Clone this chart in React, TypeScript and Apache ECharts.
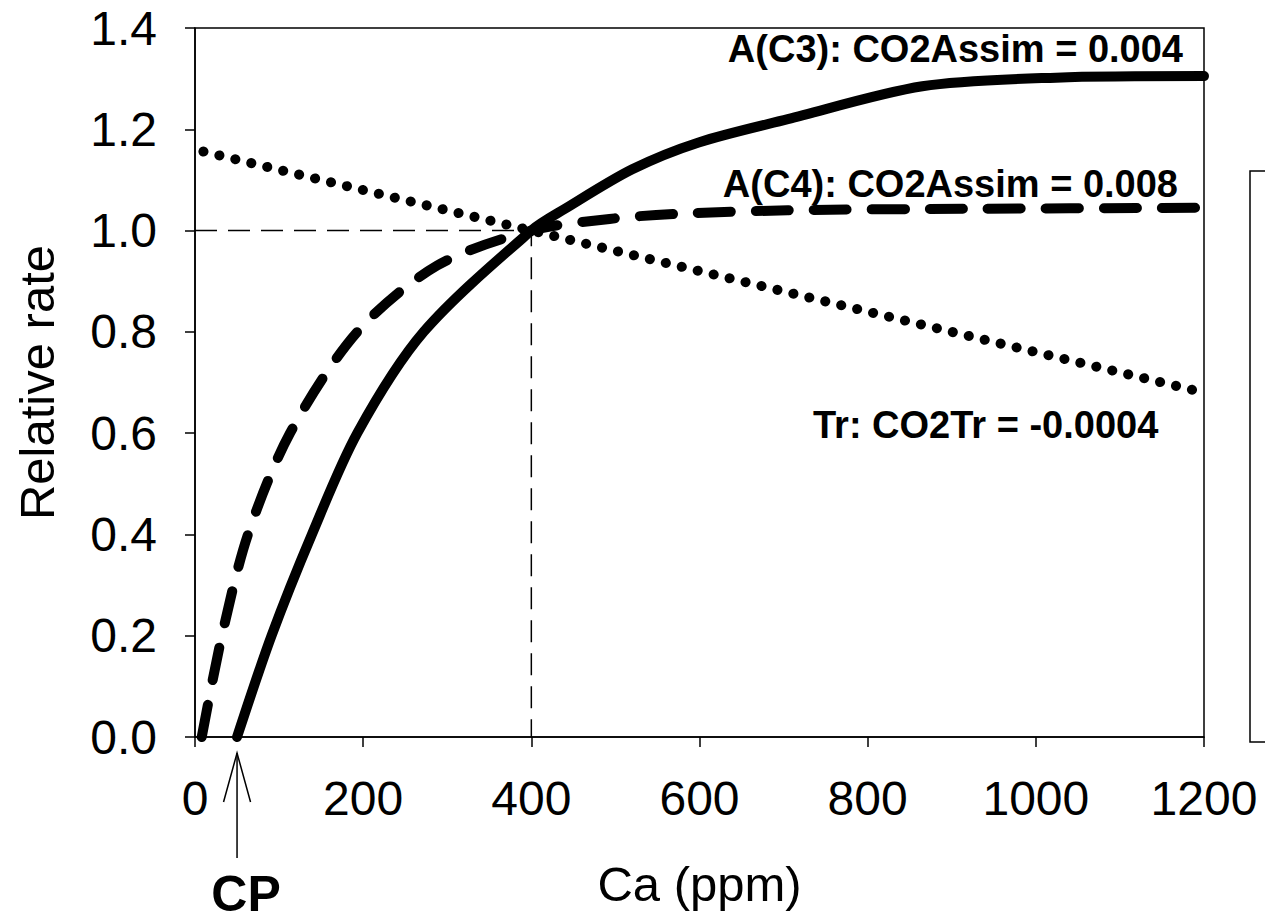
import React, { useEffect, useRef } from "react";
import * as echarts from "echarts";

// C3 assimilation curve (Ca ppm, relative rate)
const c3Ca = [50, 91, 139, 193, 272, 400, 440, 520, 599, 705, 865, 1024, 1200];
const c3Rate = [0, 0.2, 0.4, 0.6, 0.8, 1.0, 1.043, 1.121, 1.174, 1.22, 1.285, 1.302, 1.305];

// C4 assimilation curve
const c4Ca = [8, 32, 63, 113, 193, 288, 400, 493, 573, 705, 918, 1200];
const c4Rate = [0, 0.2, 0.4, 0.6, 0.8, 0.931, 1.0, 1.023, 1.033, 1.04, 1.043, 1.045];

// Transpiration line
const trCa = [10, 400, 1200];
const trRate = [1.156, 1.0, 0.68];

// Reference (400 ppm, 1.0) guide
const refCa = [0, 400, 400];
const refRate = [1.0, 1.0, 0.0];

// CP (compensation point)
const cpCa = 50;

const labels = {
  c3: "A(C3): CO2Assim = 0.004",
  c4: "A(C4): CO2Assim = 0.008",
  tr: "Tr: CO2Tr = -0.0004",
  cp: "CP",
  x: "Ca (ppm)",
  y: "Relative rate",
};

const zip = (xs: number[], ys: number[]) => xs.map((x, i) => [x, ys[i]]);

const FONT = "'Liberation Sans', Arial, Helvetica, sans-serif";

export default function App() {
  const ref = useRef<HTMLDivElement>(null);
  useEffect(() => {
    if (!ref.current) return;
    const chart = echarts.init(ref.current, null, { renderer: "svg" });
    chart.setOption({
      animation: false,
      backgroundColor: "#fff",
      grid: {
        left: 195,
        right: 61,
        top: 28,
        bottom: 184,
        containLabel: false,
        outerBoundsMode: "none",
        show: true,
        borderColor: "#000",
        borderWidth: 1.5,
        backgroundColor: "transparent",
      },
      xAxis: {
        type: "value",
        min: 0,
        max: 1200,
        interval: 200,
        name: labels.x,
        nameLocation: "middle",
        nameGap: 122,
        nameTextStyle: { fontFamily: FONT, fontSize: 49, color: "#000" },
        axisLine: { show: true, onZero: false, lineStyle: { color: "#000", width: 1.5 } },
        axisTick: { show: true, length: 10, lineStyle: { color: "#000", width: 1.5 } },
        axisLabel: {
          fontFamily: FONT,
          fontSize: 48,
          color: "#000",
          margin: 37,
          formatter: (v: number) => String(v),
        },
        splitLine: { show: false },
      },
      yAxis: {
        type: "value",
        min: 0,
        max: 1.4,
        interval: 0.2,
        name: labels.y,
        nameLocation: "middle",
        nameGap: 134,
        nameTextStyle: { fontFamily: FONT, fontSize: 49, color: "#000" },
        axisLine: { show: true, onZero: false, lineStyle: { color: "#000", width: 1.5 } },
        axisTick: { show: true, length: 10, lineStyle: { color: "#000", width: 1.5 } },
        axisLabel: {
          fontFamily: FONT,
          fontSize: 48,
          color: "#000",
          margin: 38,
          formatter: (v: number) => v.toFixed(1),
        },
        splitLine: { show: false },
      },
      series: [
        {
          type: "line",
          data: zip(refCa, refRate),
          symbol: "none",
          lineStyle: { color: "#000", width: 1.5, type: [22, 11] },
          z: 1,
        },
        {
          type: "line",
          data: zip(trCa, trRate),
          symbol: "none",
          lineStyle: { color: "#000", width: 10, type: [0.1, 16.3], cap: "round" },
          z: 2,
        },
        {
          type: "line",
          data: zip(c4Ca, c4Rate),
          symbol: "none",
          smooth: 0.3,
          lineStyle: { color: "#000", width: 10, type: [33, 25], cap: "round" },
          z: 3,
        },
        {
          type: "line",
          data: zip(c3Ca, c3Rate),
          symbol: "none",
          smooth: 0.3,
          lineStyle: { color: "#000", width: 10, cap: "round" },
          z: 4,
        },
      ],
    });

    const [cpX, axisY] = chart.convertToPixel({ gridIndex: 0 }, [cpCa, 0]) as number[];
    const tipY = axisY + 16;
    chart.setOption({
      graphic: [
        {
          type: "text",
          x: 1183,
          y: 49,
          style: { text: labels.c3, font: `bold 38px ${FONT}`, fill: "#000", align: "right", verticalAlign: "middle" },
        },
        {
          type: "text",
          x: 1178,
          y: 184,
          style: { text: labels.c4, font: `bold 38px ${FONT}`, fill: "#000", align: "right", verticalAlign: "middle" },
        },
        {
          type: "text",
          x: 813,
          y: 425,
          style: { text: labels.tr, font: `bold 38px ${FONT}`, fill: "#000", align: "left", verticalAlign: "middle" },
        },
        {
          type: "line",
          shape: { x1: cpX, y1: tipY, x2: cpX, y2: tipY + 105 },
          style: { stroke: "#000", lineWidth: 1.5 },
        },
        {
          type: "polyline",
          shape: { points: [[cpX - 13.5, tipY + 49], [cpX, tipY], [cpX + 13.5, tipY + 49]] },
          style: { stroke: "#000", lineWidth: 1.5, fill: "none" },
        },
        {
          type: "text",
          x: cpX + 9,
          y: 894,
          style: { text: labels.cp, font: `bold 50px ${FONT}`, fill: "#000", align: "center", verticalAlign: "middle" },
        },
        {
          type: "rect",
          shape: { x: 1250, y: 171, width: 40, height: 571 },
          style: { stroke: "#000", lineWidth: 1.5, fill: "none" },
        },
      ],
    });
    return () => chart.dispose();
  }, []);
  return (
    <div
      ref={ref}
      style={{ position: "fixed", left: 0, top: 0, width: 1265, height: 921, background: "#fff" }}
    />
  );
}
